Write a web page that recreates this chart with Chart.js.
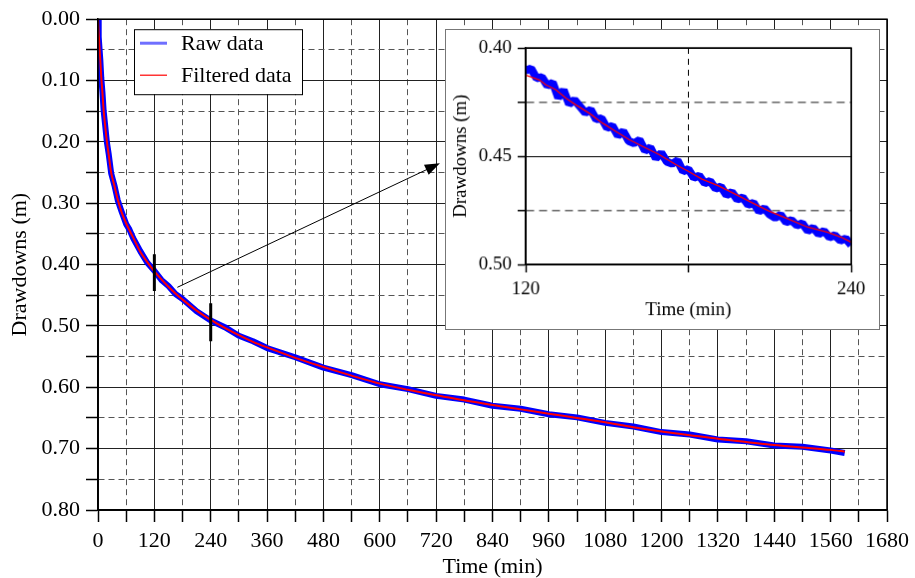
<!DOCTYPE html>
<html>
<head>
<meta charset="utf-8">
<script src="https://cdn.jsdelivr.net/npm/chart.js@4.4.1/dist/chart.umd.min.js"></script>
<style>
  body { margin: 0; background: #fff; }
  #wrap { position: relative; width: 915px; height: 578px; }
  #mainchart { position: absolute; left: 0; top: 0; }
  #insetchart { position: absolute; left: 445px; top: 29px; border: 1px solid #777; background: #fff; }
</style>
</head>
<body>
<div id="wrap">
  <canvas id="mainchart" width="915" height="578"></canvas>
  <canvas id="insetchart" width="435" height="301"></canvas>
</div>
<script>
// main curve
const mainTime = [0, 1, 2, 3.5, 5, 7, 9.5, 12, 15, 19, 23, 28, 35, 42, 50, 60, 67, 75, 90, 105, 120, 135, 150, 165, 180, 210, 240, 270, 300, 330, 360, 420, 480, 540, 600, 660, 720, 780, 840, 900, 960, 1020, 1080, 1140, 1200, 1260, 1320, 1380, 1440, 1500, 1560, 1590];
const mainFiltered = [0, 0.016, 0.030, 0.050, 0.068, 0.095, 0.120, 0.148, 0.172, 0.200, 0.222, 0.250, 0.272, 0.294, 0.314, 0.333, 0.344, 0.356, 0.379, 0.396, 0.411, 0.424, 0.436, 0.447, 0.457, 0.475, 0.490, 0.503, 0.515, 0.526, 0.535, 0.552, 0.567, 0.581, 0.594, 0.604, 0.613, 0.621, 0.629, 0.636, 0.643, 0.650, 0.657, 0.665, 0.672, 0.678, 0.684, 0.689, 0.694, 0.698, 0.702, 0.705];
const mainRaw = [0, 0.017, 0.029, 0.051, 0.067, 0.096, 0.119, 0.149, 0.171, 0.201, 0.221, 0.251, 0.271, 0.295, 0.313, 0.334, 0.343, 0.357, 0.378, 0.397, 0.410, 0.425, 0.435, 0.448, 0.456, 0.476, 0.491, 0.502, 0.516, 0.525, 0.536, 0.551, 0.568, 0.580, 0.595, 0.603, 0.614, 0.620, 0.630, 0.635, 0.644, 0.649, 0.658, 0.664, 0.673, 0.677, 0.685, 0.688, 0.695, 0.697, 0.703, 0.707];

// the two black marks on the curve
const markTime = [120, 240];
const markTop = [0.383, 0.463];
const markBottom = [0.443, 0.525];

// arrow to the zoom box (time, drawdown)
const arrowFrom = [169, 0.437];
const arrowTo = [728, 0.235];

// zoom box data 120-240 min
const insetFiltTime = [120, 125.1, 127.5, 131.2, 134.8, 138.5, 143.4, 148.3, 153.2, 158.1, 163, 169.1, 175.2, 179.8, 185, 191.1, 197.2, 203.3, 209.4, 216.7, 224, 231.4, 236.3, 240];
const insetFiltered = [0.4125, 0.4148, 0.4171, 0.4194, 0.4232, 0.4263, 0.4301, 0.4347, 0.4385, 0.4423, 0.4454, 0.4492, 0.4538, 0.4569, 0.4606, 0.4637, 0.4675, 0.4714, 0.4752, 0.4790, 0.4828, 0.4851, 0.4874, 0.4897];
const insetRawTime = [120, 122, 124, 126, 128, 130, 132, 134, 136, 138, 140, 142, 144, 146, 148, 150, 152, 154, 156, 158, 160, 162, 164, 166, 168, 170, 172, 174, 176, 178, 180, 182, 184, 186, 188, 190, 192, 194, 196, 198, 200, 202, 204, 206, 208, 210, 212, 214, 216, 218, 220, 222, 224, 226, 228, 230, 232, 234, 236, 238, 240];
const insetRaw = [0.4105, 0.4095, 0.4140, 0.4135, 0.4175, 0.4160, 0.4230, 0.4195, 0.4260, 0.4240, 0.4270, 0.4300, 0.4285, 0.4330, 0.4325, 0.4370, 0.4360, 0.4405, 0.4385, 0.4430, 0.4440, 0.4425, 0.4475, 0.4460, 0.4510, 0.4485, 0.4525, 0.4535, 0.4520, 0.4570, 0.4560, 0.4600, 0.4590, 0.4625, 0.4615, 0.4650, 0.4640, 0.4680, 0.4665, 0.4700, 0.4690, 0.4725, 0.4715, 0.4755, 0.4740, 0.4770, 0.4785, 0.4770, 0.4805, 0.4795, 0.4820, 0.4810, 0.4845, 0.4830, 0.4860, 0.4845, 0.4875, 0.4865, 0.4890, 0.4880, 0.4910];

const seriesNames = ["Raw data", "Filtered data"];
const rawColor = "#0000ff";
const filtColor = "#ff0000";

Chart.defaults.font.family = "'Liberation Serif', 'Times New Roman', serif";
Chart.defaults.color = "#000";

function pts(xs, ys) {
  return xs.map((t, i) => ({ x: t, y: ys[i] }));
}

const mainDecor = {
  id: "mainDecor",
  afterDatasetsDraw(chart) {
    const { ctx, chartArea: a } = chart;
    const x = chart.scales.x;
    const y = chart.scales.y;
    ctx.save();
    ctx.strokeStyle = "#000";
    ctx.lineWidth = 1.5;
    ctx.strokeRect(a.left, a.top, a.right - a.left, a.bottom - a.top);

    // arrow
    const x1 = x.getPixelForValue(arrowFrom[0]);
    const y1 = y.getPixelForValue(arrowFrom[1]);
    const x2 = x.getPixelForValue(arrowTo[0]);
    const y2 = y.getPixelForValue(arrowTo[1]);
    const ang = Math.atan2(y2 - y1, x2 - x1);
    ctx.lineWidth = 1;
    ctx.beginPath();
    ctx.moveTo(x1, y1);
    ctx.lineTo(x2 - 12 * Math.cos(ang), y2 - 12 * Math.sin(ang));
    ctx.stroke();
    ctx.fillStyle = "#000";
    ctx.beginPath();
    ctx.moveTo(x2, y2);
    ctx.lineTo(x2 - 15 * Math.cos(ang) + 5.5 * Math.sin(ang), y2 - 15 * Math.sin(ang) - 5.5 * Math.cos(ang));
    ctx.lineTo(x2 - 15 * Math.cos(ang) - 5.5 * Math.sin(ang), y2 - 15 * Math.sin(ang) + 5.5 * Math.cos(ang));
    ctx.closePath();
    ctx.fill();

    // legend box
    const lx = a.left + 36, ly = a.top + 10, lw = 168, lh = 65;
    ctx.fillStyle = "#fff";
    ctx.fillRect(lx, ly, lw, lh);
    ctx.lineWidth = 1;
    ctx.strokeStyle = "#000";
    ctx.strokeRect(lx + 0.5, ly + 0.5, lw, lh);
    ctx.lineWidth = 3;
    ctx.strokeStyle = "#6f6fff";
    ctx.beginPath();
    ctx.moveTo(lx + 6, ly + 14);
    ctx.lineTo(lx + 33, ly + 14);
    ctx.stroke();
    ctx.lineWidth = 1.2;
    ctx.strokeStyle = filtColor;
    ctx.beginPath();
    ctx.moveTo(lx + 6, ly + 46);
    ctx.lineTo(lx + 33, ly + 46);
    ctx.stroke();
    ctx.fillStyle = "#000";
    ctx.font = "22px 'Liberation Serif', serif";
    ctx.textBaseline = "middle";
    ctx.fillText(seriesNames[0], lx + 47, ly + 15);
    ctx.fillText(seriesNames[1], lx + 47, ly + 47);
    ctx.restore();
  },
};

const insetFrame = {
  id: "insetFrame",
  afterDatasetsDraw(chart) {
    const { ctx, chartArea: a } = chart;
    ctx.save();
    ctx.strokeStyle = "#000";
    ctx.lineWidth = 1.5;
    ctx.strokeRect(a.left, a.top, a.right - a.left, a.bottom - a.top);
    ctx.restore();
  },
};

const isMajorX = (v) => v % 120 === 0;
const isMajorY = (v) => Math.round(v * 100) % 10 === 0;

new Chart(document.getElementById("mainchart"), {
  type: "line",
  data: {
    datasets: [
      {
        label: "marks",
        data: [
          { x: markTime[0], y: markTop[0] }, { x: markTime[0], y: markBottom[0] },
          { x: NaN, y: NaN },
          { x: markTime[1], y: markTop[1] }, { x: markTime[1], y: markBottom[1] },
        ],
        borderColor: "#000",
        borderWidth: 3,
        pointRadius: 0,
        spanGaps: false,
        order: 0,
      },
      {
        label: seriesNames[1],
        data: pts(mainTime, mainFiltered),
        borderColor: filtColor,
        borderWidth: 2,
        pointRadius: 0,
        tension: 0.3,
        order: 1,
      },
      {
        label: seriesNames[0],
        data: pts(mainTime, mainRaw),
        borderColor: rawColor,
        borderWidth: 6,
        borderJoinStyle: "round",
        pointRadius: 0,
        order: 2,
      },
    ],
  },
  options: {
    responsive: false,
    animation: false,
    layout: { padding: { top: 19, right: 24, left: 0, bottom: 0 } },
    plugins: { legend: { display: false }, tooltip: { enabled: false } },
    scales: {
      x: {
        type: "linear",
        min: 0,
        max: 1680,
        afterFit: (s) => { s.height = 68; },
        ticks: {
          stepSize: 60,
          maxTicksLimit: 100,
          autoSkip: false,
          maxRotation: 0,
          padding: 6,
          font: { size: 22 },
          callback: (v) => (isMajorX(v) ? String(v) : ""),
        },
        grid: {
          color: (c) => (c.tick && isMajorX(c.tick.value) ? "#222" : "#555"),
          lineWidth: 1,
          tickLength: 12,
          tickColor: "#000",
          tickWidth: 1.5,
        },
        border: {
          color: "#000",
          width: 1.5,
          dash: (c) => (c.tick && !isMajorX(c.tick.value) ? [6, 4] : []),
        },
        title: {
          display: true,
          text: "Time (min)",
          font: { size: 22, lineHeight: 1 },
          padding: { top: 0, bottom: 0 },
        },
      },
      y: {
        type: "linear",
        reverse: true,
        min: 0,
        max: 0.8,
        afterFit: (s) => { s.width = 98; },
        ticks: {
          stepSize: 0.05,
          maxTicksLimit: 100,
          autoSkip: false,
          padding: 6,
          font: { size: 22 },
          callback: (v) => (isMajorY(v) ? v.toFixed(2) : ""),
        },
        grid: {
          color: (c) => (c.tick && isMajorY(c.tick.value) ? "#222" : "#555"),
          lineWidth: 1,
          tickLength: 12,
          tickColor: "#000",
          tickWidth: 1.5,
        },
        border: {
          color: "#000",
          width: 1.5,
          dash: (c) => (c.tick && !isMajorY(c.tick.value) ? [6, 4] : []),
        },
        title: {
          display: true,
          text: "Drawdowns (m)",
          font: { size: 22, lineHeight: 1 },
          padding: { top: 9, bottom: 0 },
        },
      },
    },
  },
  plugins: [mainDecor],
});

new Chart(document.getElementById("insetchart"), {
  type: "line",
  data: {
    datasets: [
      {
        label: seriesNames[1],
        data: pts(insetFiltTime, insetFiltered),
        borderColor: filtColor,
        borderWidth: 1.3,
        pointRadius: 0,
        order: 0,
      },
      {
        label: seriesNames[0],
        data: pts(insetRawTime, insetRaw),
        borderColor: rawColor,
        borderWidth: 8,
        borderJoinStyle: "bevel",
        pointRadius: 0,
        order: 1,
      },
    ],
  },
  options: {
    responsive: false,
    animation: false,
    layout: { padding: { top: 18, right: 28, left: 0, bottom: 0 } },
    plugins: { legend: { display: false }, tooltip: { enabled: false } },
    scales: {
      x: {
        type: "linear",
        min: 120,
        max: 240,
        afterFit: (s) => { s.height = 65; },
        ticks: {
          stepSize: 60,
          autoSkip: false,
          maxRotation: 0,
          padding: 6,
          font: { size: 19 },
          callback: (v) => (v === 180 ? "" : String(v)),
        },
        grid: {
          color: "#000",
          lineWidth: 1,
          tickLength: 8,
          tickColor: "#000",
          tickWidth: 1.5,
        },
        border: {
          color: "#000",
          width: 1.5,
          dash: (c) => (c.tick && c.tick.value === 180 ? [6, 5] : []),
        },
        title: {
          display: true,
          text: "Time (min)",
          font: { size: 19, lineHeight: 1 },
          padding: { top: 0, bottom: 9 },
        },
      },
      y: {
        type: "linear",
        reverse: true,
        min: 0.4,
        max: 0.5,
        afterFit: (s) => { s.width = 80; },
        ticks: {
          stepSize: 0.025,
          maxTicksLimit: 100,
          autoSkip: false,
          padding: 6,
          font: { size: 19 },
          callback: (v) => (Math.round(v * 1000) % 50 === 0 ? v.toFixed(2) : ""),
        },
        grid: {
          color: (c) => (c.tick && Math.round(c.tick.value * 1000) % 50 === 0 ? "#000" : "#666"),
          lineWidth: (c) => (c.tick && Math.round(c.tick.value * 1000) % 50 === 0 ? 1 : 1.5),
          tickLength: 8,
          tickColor: "#000",
          tickWidth: 1.5,
        },
        border: {
          color: "#000",
          width: 1.5,
          dash: (c) => (c.tick && Math.round(c.tick.value * 1000) % 50 !== 0 ? [8, 5] : []),
        },
        title: {
          display: true,
          text: "Drawdowns (m)",
          font: { size: 19, lineHeight: 1 },
          padding: { top: 6, bottom: 0 },
        },
      },
    },
  },
  plugins: [insetFrame],
});
</script>
</body>
</html>
